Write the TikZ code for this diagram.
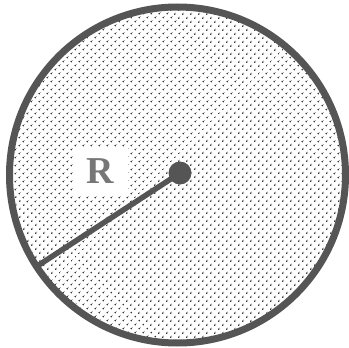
\documentclass[tikz,border=0pt]{standalone}
\usepackage{fontspec}
\setmainfont{Liberation Serif}
\usetikzlibrary{patterns.meta,calc}
\definecolor{rimgray}{HTML}{555555}
\definecolor{labelgray}{HTML}{777777}
\begin{document}
\begin{tikzpicture}[
			x=1pt, y=-1pt,
			rim/.style={draw=rimgray, line width=7pt},
			dotfill/.style={pattern={Dots[distance=5.4pt, angle=45, radius=1pt]}, pattern color=black!85},
			hub/.style={circle, fill=rimgray, minimum size=23pt, inner sep=0pt},
			radius line/.style={draw=rimgray, line width=5.5pt},
			every node/.style={inner sep=2pt}
		]
		\useasboundingbox (0,0) rectangle (349,348);
		\path[dotfill] (177.5,175) circle[radius=168];
		\coordinate (mid) at (177.5,175);
		\node[hub] (hub) at (180,173) {};
		\coordinate (rimpt) at ($(mid)+(147:168)$);
		\draw[radius line] (hub.center) -- (rimpt);
		\draw[rim] (mid) circle[radius=168];
		\node[fill=white, minimum width=55pt, minimum height=47pt, text=labelgray, font=\bfseries\fontsize{38}{38}\selectfont] (rlabel) at (100.5,171.5) {R};
	\end{tikzpicture}
\end{document}
